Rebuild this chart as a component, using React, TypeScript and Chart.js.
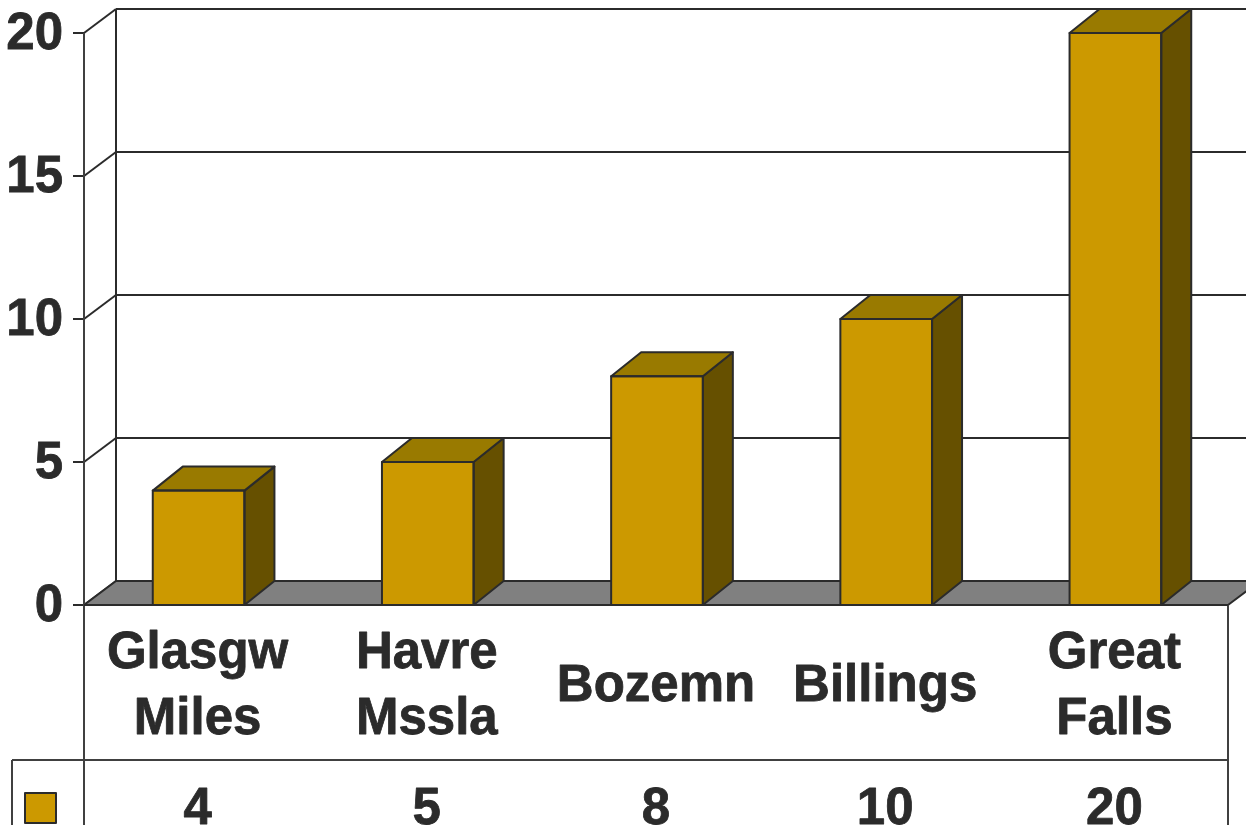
import React, { useEffect, useRef } from "react";
import { Chart, registerables } from "chart.js";

Chart.register(...registerables);

const categoryLines = [["Glasgw", "Miles"], ["Havre", "Mssla"], ["Bozemn"], ["Billings"], ["Great", "Falls"]];
const seriesValues = [4, 5, 8, 10, 20];
const yTicks = [0, 5, 10, 15, 20];

const LINE = "#2b2b2b";
const TEXT = "#2b2b2b";
const FRONT = "#cc9900";
const TOP = "#997a00";
const SIDE = "#665000";
const FLOOR = "#808080";
const FONT = "bold 51px 'Liberation Sans', Arial, sans-serif";
const DX = 31;
const DY = 24;
const TABLE_RIGHT = 1228;

function poly(ctx: CanvasRenderingContext2D, pts: number[][], fill: string) {
  ctx.beginPath();
  pts.forEach((p, i) => (i ? ctx.lineTo(p[0], p[1]) : ctx.moveTo(p[0], p[1])));
  ctx.closePath();
  ctx.fillStyle = fill;
  ctx.fill();
  ctx.stroke();
}

function seg(ctx: CanvasRenderingContext2D, x1: number, y1: number, x2: number, y2: number) {
  ctx.beginPath();
  ctx.moveTo(x1, y1);
  ctx.lineTo(x2, y2);
  ctx.stroke();
}

function heavyText(ctx: CanvasRenderingContext2D, s: string, x: number, y: number) {
  ctx.fillText(s, x, y);
  ctx.strokeText(s, x, y);
}

const noPad = (s: any) => {
  s.paddingTop = 0;
  s.paddingBottom = 0;
  s.paddingLeft = 0;
  s.paddingRight = 0;
};

const scenePlugin = {
  id: "scene",
  beforeDatasetsDraw(chart: any) {
    const { ctx, chartArea: a, scales } = chart;
    const y = scales.y;
    ctx.save();
    ctx.strokeStyle = LINE;
    ctx.lineWidth = 2;
    ctx.lineJoin = "round";
    yTicks.forEach((t) => {
      const py = y.getPixelForValue(t);
      seg(ctx, a.left - 11, py, a.left, py);
      seg(ctx, a.left, py, a.left + DX + 1, py - DY);
      if (t > 0) seg(ctx, a.left + DX + 1, py - DY, TABLE_RIGHT + DX + 1, py - DY);
    });
    seg(ctx, a.left + DX + 1, y.getPixelForValue(20) - DY, a.left + DX + 1, y.getPixelForValue(0) - DY);
    const by = y.getPixelForValue(0);
    poly(ctx, [[a.left, by], [a.left + DX + 1, by - DY], [TABLE_RIGHT + DX + 1, by - DY], [TABLE_RIGHT, by]], FLOOR);

    // data table frame
    ctx.strokeStyle = "#404040";
    seg(ctx, a.left, y.getPixelForValue(20), a.left, 826);
    seg(ctx, TABLE_RIGHT, by, TABLE_RIGHT, 826);
    seg(ctx, 12, 760, TABLE_RIGHT, 760);
    seg(ctx, 12, 760, 12, 826);
    ctx.restore();
  },
  afterDatasetsDraw(chart: any) {
    const { ctx, scales } = chart;
    const x = scales.x;
    const meta = chart.getDatasetMeta(0);
    ctx.save();
    ctx.strokeStyle = LINE;
    ctx.lineWidth = 2;
    ctx.lineJoin = "round";
    meta.data.forEach((bar: any) => {
      const l = bar.x - bar.width / 2;
      const r = bar.x + bar.width / 2;
      const t = bar.y;
      const b = bar.base;
      poly(ctx, [[r, t], [r + DX - 1, t - DY], [r + DX - 1, b - DY], [r, b]], SIDE);
      poly(ctx, [[l, t], [l + DX - 1, t - DY], [r + DX - 1, t - DY], [r, t]], TOP);
      ctx.strokeRect(l, t, bar.width, b - t);
    });
    seg(ctx, chart.chartArea.left, meta.data[0].base, TABLE_RIGHT, meta.data[0].base);

    // legend key
    ctx.fillStyle = FRONT;
    ctx.fillRect(25, 793, 31, 30);
    ctx.strokeRect(25, 793, 31, 30);

    // category labels and data row
    ctx.fillStyle = TEXT;
    ctx.strokeStyle = TEXT;
    ctx.lineWidth = 0.8;
    ctx.font = FONT;
    ctx.textAlign = "center";
    ctx.textBaseline = "alphabetic";
    categoryLines.forEach((lines, i) => {
      const cx = x.getPixelForValue(i) - 1;
      const baselines = lines.length === 2 ? [668, 734] : [701];
      lines.forEach((line, k) => heavyText(ctx, line, cx, baselines[k]));
      heavyText(ctx, String(seriesValues[i]), cx, 824);
    });
    ctx.restore();
  },
};

export default function App() {
  const ref = useRef<HTMLCanvasElement>(null);
  useEffect(() => {
    const chart = new Chart(ref.current!, {
      type: "bar",
      data: {
        labels: categoryLines.map((l) => l.join(" ")),
        datasets: [
          {
            data: seriesValues,
            backgroundColor: FRONT,
            borderWidth: 0,
            barPercentage: 0.4,
            categoryPercentage: 1,
            clip: false,
          } as any,
        ],
      },
      options: {
        responsive: false,
        animation: false,
        layout: { padding: { top: 33, bottom: 220, right: 16, left: 0 } },
        plugins: { legend: { display: false }, tooltip: { enabled: false } },
        scales: {
          x: {
            display: true,
            grid: { display: false },
            border: { display: false },
            ticks: { display: false },
            afterFit: (s: any) => {
              s.height = 0;
              noPad(s);
            },
          },
          y: {
            min: 0,
            max: 20,
            afterFit: (s: any) => {
              s.width = 84;
              noPad(s);
            },
            afterBuildTicks: (s: any) => {
              s.ticks = yTicks.map((value) => ({ value }));
            },
            grid: { display: false },
            border: { display: false },
            ticks: {
              color: TEXT,
              padding: 13,
              labelOffset: 2,
              textStrokeColor: TEXT,
              textStrokeWidth: 0.8,
              font: { family: "'Liberation Sans', Arial, sans-serif", size: 51, weight: "bold" },
            },
          },
        },
      },
      plugins: [scenePlugin],
    } as any);
    return () => chart.destroy();
  }, []);
  return (
    <canvas
      ref={ref}
      width={1246}
      height={825}
      style={{ position: "fixed", left: 0, top: 0, width: 1246, height: 825, display: "block", background: "#fff" }}
    />
  );
}
